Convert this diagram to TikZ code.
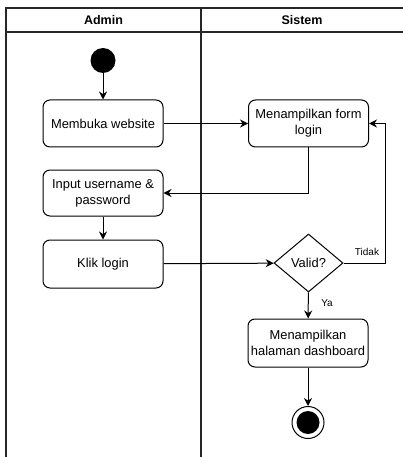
\documentclass[tikz,border=0pt]{standalone}
\usepackage{fontspec}
\setmainfont{Liberation Sans}
\usetikzlibrary{shapes.geometric,arrows.meta}
\begin{document}
\begin{tikzpicture}[x=1pt,y=-1pt,
  act/.style={draw,line width=1pt,rounded corners=7pt,minimum width=120pt,minimum height=47pt,align=center,font=\fontsize{12.9}{16}\selectfont,inner sep=1pt},
  conn/.style={line width=1pt,-{Stealth[length=8pt,width=8pt]}},
  lane/.style={line width=1.3pt,draw=black!85},
  lbl/.style={font=\fontsize{10}{12}\selectfont,inner sep=1pt}]
\useasboundingbox (0,0) rectangle (403,457);
% swimlanes
\draw[lane] (6,457) -- (6,8) -- (404,8);
\draw[lane] (6,32) -- (404,32);
\draw[lane] (201,8) -- (201,457);
\node[font=\bfseries\fontsize{12.5}{14}\selectfont] (hA) at (103.5,20) {Admin};
\node[font=\bfseries\fontsize{12.5}{14}\selectfont] (hS) at (302,20) {Sistem};
% nodes
\node[circle,fill=black,minimum size=25pt,inner sep=0] (start) at (103,60.5) {};
\node[act] (m) at (103,123.5) {Membuka website};
\node[act] (form) at (308.5,123.5) {Menampilkan form\\login};
\node[act,minimum height=46pt] (input) at (103,193) {Input username \&\\password};
\node[act,minimum height=48pt] (klik) at (103,264) {Klik login};
\node[diamond,draw,line width=1pt,minimum width=69pt,minimum height=58pt,inner sep=0,font=\fontsize{12.9}{16}\selectfont] (valid) at (308.5,263) {Valid?};
\node[act,minimum height=48pt] (dash) at (308,343) {Menampilkan\\halaman dashboard};
\node[circle,draw,line width=1pt,fill=white,minimum size=32pt,inner sep=0] (end) at (308,422.5) {};
\node[circle,fill=black,minimum size=23pt,inner sep=0] (endin) at (end.center) {};
% connectors
\draw[conn] (start) -- (m);
\draw[conn] (m) -- (form);
\draw[conn] (form.south) |- (input.east);
\draw[conn] (input) -- (klik);
\draw[conn] (klik) -- (valid);
\coordinate (r) at (385,263);
\draw[conn] (valid.east) -- (r) |- (form.east);
\node[lbl] (tidak) at (367,252) {Tidak};
\draw[conn] (valid) -- (dash);
\node[lbl] (ya) at (327,303) {Ya};
\draw[conn] (dash) -- (end);
\end{tikzpicture}
\end{document}
